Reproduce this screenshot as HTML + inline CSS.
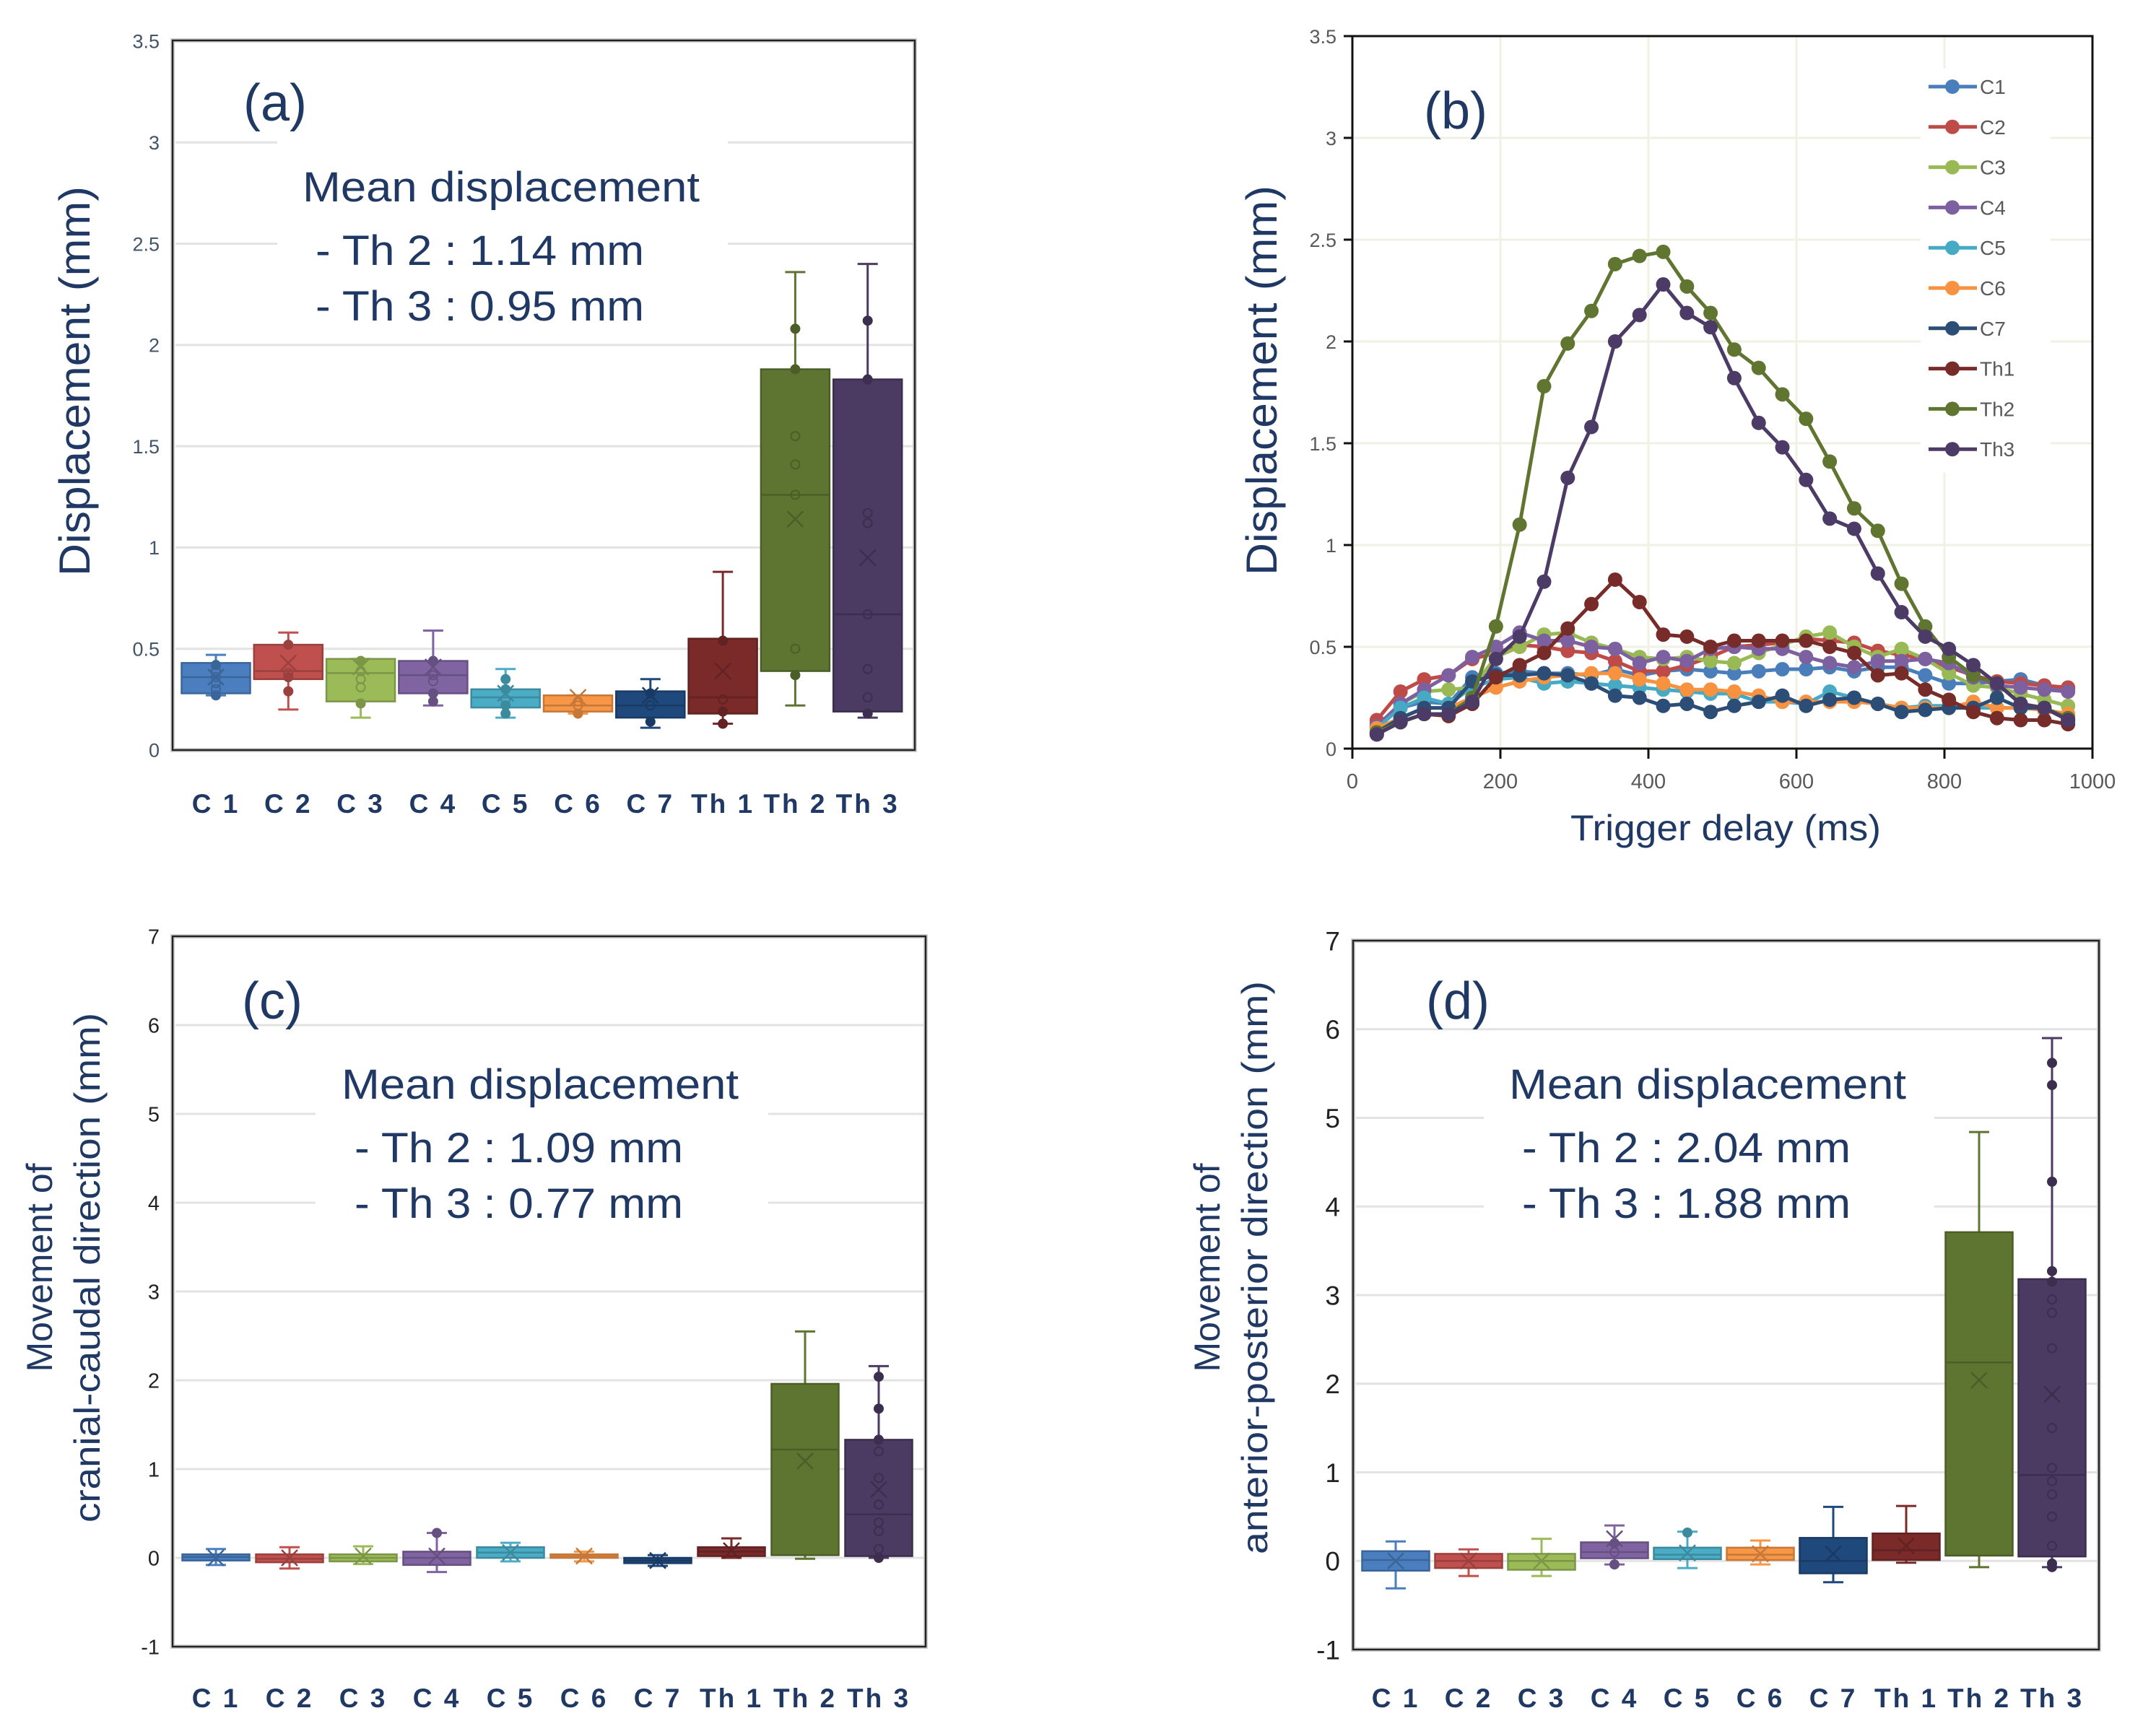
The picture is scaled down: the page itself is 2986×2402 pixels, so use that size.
<!DOCTYPE html>
<html><head><meta charset="utf-8">
<style>
html,body{margin:0;padding:0;background:#fff;}
svg{display:block;font-family:"Liberation Sans",sans-serif;}
</style></head>
<body>
<svg id="fig" width="2986" height="2402" viewBox="0 0 2986 2402" xmlns="http://www.w3.org/2000/svg">
<rect x="0" y="0" width="2986" height="2402" fill="#fff"/>
</svg>
<script>
// ---------- data ----------
const categories = ["C 1","C 2","C 3","C 4","C 5","C 6","C 7","Th 1","Th 2","Th 3"];
const boxColors = ["#4a7ebf","#c0504d","#9bbb59","#8064a2","#4bacc6","#f79646","#1f497d","#7b2a2a","#5e7532","#4b3a62"];

// panel a
const aMin  = [0.27,0.20,0.16,0.22,0.16,0.18,0.11,0.13,0.22,0.16];
const aQ1   = [0.28,0.35,0.24,0.28,0.21,0.19,0.16,0.18,0.39,0.19];
const aMed  = [0.36,0.39,0.38,0.37,0.26,0.22,0.22,0.26,1.26,0.67];
const aQ3   = [0.43,0.52,0.45,0.44,0.30,0.27,0.29,0.55,1.88,1.83];
const aMax  = [0.47,0.58,0.45,0.59,0.40,0.27,0.35,0.88,2.36,2.40];
const aMean = [0.36,0.43,0.41,0.41,0.28,0.26,0.27,0.39,1.14,0.95];
const aPts  = [[0.27,0.30,0.33,0.36,0.39,0.42],[0.29,0.36,0.38,0.52],[0.23,0.31,0.35,0.39,0.44],[0.24,0.28,0.34,0.37,0.44],[0.18,0.22,0.25,0.30,0.35],[0.18,0.22,0.24],[0.14,0.22,0.28],[0.13,0.19,0.25,0.54],[0.37,0.50,1.26,1.41,1.55,1.88,2.08],[0.18,0.26,0.40,0.67,1.12,1.17,1.83,2.12]];
const aTicks = [0,0.5,1,1.5,2,2.5,3,3.5];
const aTickLabels = ["0","0.5","1","1.5","2","2.5","3","3.5"];

// panel c
const cMin  = [-0.08,-0.12,-0.07,-0.16,-0.04,-0.04,-0.09,0.00,-0.01,0.00];
const cQ1   = [-0.03,-0.05,-0.04,-0.08,0.00,0.00,-0.06,0.02,0.03,0.02];
const cMed  = [0.01,-0.01,0.00,0.00,0.06,0.02,-0.03,0.07,1.22,0.49];
const cQ3   = [0.04,0.04,0.04,0.07,0.12,0.04,0.00,0.12,1.96,1.33];
const cMax  = [0.10,0.12,0.13,0.28,0.17,0.07,0.03,0.22,2.55,2.16];
const cMean = [0.00,0.00,0.02,0.02,0.06,0.02,-0.03,0.08,1.09,0.77];
const cPts  = [[],[],[],[0.28],[],[],[],[],[],[0.00,0.10,0.30,0.40,0.60,0.90,1.20,1.33,1.68,2.04]];
const cdTicks = [-1,0,1,2,3,4,5,6,7];
const cdTickLabels = ["-1","0","1","2","3","4","5","6","7"];

// panel d
const dMin  = [-0.31,-0.17,-0.17,-0.04,-0.08,-0.04,-0.24,-0.02,-0.07,-0.07];
const dQ1   = [-0.11,-0.08,-0.10,0.03,0.02,0.01,-0.14,0.01,0.06,0.05];
const dMed  = [0.01,0.00,0.00,0.10,0.07,0.07,0.00,0.12,2.24,0.97];
const dQ3   = [0.11,0.08,0.08,0.21,0.15,0.15,0.26,0.31,3.71,3.18];
const dMax  = [0.22,0.13,0.25,0.40,0.33,0.23,0.61,0.62,4.84,5.90];
const dMean = [0.00,0.00,0.00,0.25,0.09,0.08,0.08,0.17,2.04,1.88];
const dPts  = [[],[],[],[-0.04,0.10,0.20],[0.32],[],[],[],[],[-0.07,-0.03,0.17,0.50,0.75,0.90,1.05,1.50,2.40,2.80,2.95,3.15,3.27,4.28,5.37,5.62]];

// panel b
const seriesNames = ["C1","C2","C3","C4","C5","C6","C7","Th1","Th2","Th3"];
const lineColors = ["#4a7ebb","#be4b48","#98b954","#7d60a0","#46aac5","#f69240","#2c4d75","#772c2a","#5f7530","#4b3b66"];
const delays = [33,65,97,130,162,194,226,259,291,323,355,388,420,452,484,516,549,581,613,645,678,710,742,774,806,839,871,903,935,967];
const sC1 = [0.12,0.20,0.23,0.22,0.35,0.37,0.38,0.37,0.37,0.36,0.39,0.36,0.38,0.39,0.38,0.37,0.38,0.39,0.39,0.40,0.38,0.40,0.40,0.36,0.32,0.32,0.33,0.34,0.31,0.29];
const sC2 = [0.14,0.28,0.34,0.36,0.44,0.47,0.51,0.50,0.48,0.47,0.43,0.38,0.38,0.41,0.45,0.50,0.51,0.52,0.54,0.53,0.52,0.48,0.46,0.44,0.40,0.36,0.33,0.32,0.31,0.30];
const sC3 = [0.10,0.22,0.28,0.29,0.30,0.45,0.50,0.56,0.57,0.52,0.49,0.45,0.44,0.45,0.43,0.42,0.47,0.51,0.55,0.57,0.50,0.45,0.49,0.44,0.37,0.31,0.30,0.27,0.24,0.21];
const sC4 = [0.11,0.22,0.29,0.36,0.45,0.50,0.57,0.53,0.53,0.50,0.49,0.42,0.45,0.43,0.49,0.50,0.49,0.49,0.45,0.42,0.40,0.43,0.43,0.44,0.42,0.35,0.31,0.30,0.29,0.28];
const sC5 = [0.10,0.20,0.25,0.22,0.30,0.34,0.35,0.32,0.33,0.32,0.31,0.30,0.29,0.28,0.27,0.27,0.23,0.23,0.22,0.28,0.25,0.22,0.20,0.21,0.21,0.20,0.20,0.20,0.19,0.16];
const sC6 = [0.10,0.15,0.20,0.20,0.25,0.30,0.33,0.35,0.36,0.37,0.37,0.34,0.32,0.29,0.29,0.28,0.26,0.23,0.23,0.23,0.23,0.22,0.20,0.20,0.20,0.23,0.20,0.20,0.19,0.17];
const sC7 = [0.08,0.15,0.20,0.20,0.33,0.36,0.36,0.37,0.36,0.32,0.26,0.25,0.21,0.22,0.18,0.21,0.23,0.26,0.21,0.24,0.25,0.22,0.18,0.19,0.20,0.20,0.25,0.20,0.20,0.14];
const sTh1 = [0.07,0.13,0.17,0.16,0.22,0.35,0.41,0.47,0.59,0.71,0.83,0.72,0.56,0.55,0.50,0.53,0.53,0.53,0.53,0.50,0.47,0.36,0.37,0.29,0.24,0.18,0.15,0.14,0.14,0.12];
const sTh2 = [0.08,0.13,0.17,0.17,0.25,0.60,1.10,1.78,1.99,2.15,2.38,2.42,2.44,2.27,2.14,1.96,1.87,1.74,1.62,1.41,1.18,1.07,0.81,0.60,0.45,0.36,0.32,0.22,0.20,0.15];
const sTh3 = [0.07,0.13,0.17,0.17,0.23,0.44,0.55,0.82,1.33,1.58,2.00,2.13,2.28,2.14,2.07,1.82,1.60,1.48,1.32,1.13,1.08,0.86,0.67,0.55,0.49,0.41,0.32,0.22,0.20,0.14];
const bYTicks = [0,0.5,1,1.5,2,2.5,3,3.5];
const bYTickLabels = ["0","0.5","1","1.5","2","2.5","3","3.5"];
const bXTicks = [0,200,400,600,800,1000];
const bXTickLabels = ["0","200","400","600","800","1000"];

// ---------- helpers ----------
const NS = "http://www.w3.org/2000/svg";
const svg = document.getElementById("fig");
function mk(tag, attrs, parent){
  const e = document.createElementNS(NS, tag);
  for (const k in attrs) e.setAttribute(k, attrs[k]);
  (parent||svg).appendChild(e);
  return e;
}
function txt(s, attrs, parent){ const e = mk("text", attrs, parent); e.textContent = s; return e; }
function darker(hex, f){
  const n = parseInt(hex.slice(1),16);
  const r=Math.round(((n>>16)&255)*f), g=Math.round(((n>>8)&255)*f), b=Math.round((n&255)*f);
  return "rgb("+r+","+g+","+b+")";
}

function boxPanel(cfg){
  const g = mk("g", {});
  
  
  const L=cfg.left, R=cfg.right;
  const yScale = v => cfg.y0 + (v - cfg.v0) * (cfg.y1 - cfg.y0) / (cfg.v1 - cfg.v0);
  cfg.ticks.forEach((t,i)=>{
    const y = yScale(t);
    if (i>0 && i<cfg.ticks.length-1) {
      const gl = mk("line",{x1:L+4,x2:R-2,y1:y,y2:y,stroke:"#e3e3e3","stroke-width":3},g);
      
      
    }
    const tl = txt(cfg.tickLabels[i],{x:cfg.tickX,y:y+cfg.tickSize*0.36,"text-anchor":"end","font-size":cfg.tickSize,fill:cfg.tickColor},g);
    
    
  });
  const wb = mk("rect",{x:cfg.wb[0],y:cfg.wb[1],width:cfg.wb[2]-cfg.wb[0],height:cfg.wb[3]-cfg.wb[1],fill:"#fff"},g);
  
  
  const fr = mk("rect",{x:L,y:cfg.top,width:R-L,height:cfg.bottom-cfg.top,fill:"none",stroke:"#d0d0d0","stroke-width":6},g);
  
  
  const fr2 = mk("rect",{x:L,y:cfg.top,width:R-L,height:cfg.bottom-cfg.top,fill:"none",stroke:"#222","stroke-width":2.5},g);
  
  
  categories.forEach((c,i)=>{
    const cx = cfg.c0 + cfg.step*i;
    const col = boxColors[i], dk = darker(col,0.8);
    const bg = mk("g",{},g);
    
    
    const yMin=yScale(cfg.min[i]), yMax=yScale(cfg.max[i]), yQ1=yScale(cfg.q1[i]), yQ3=yScale(cfg.q3[i]), yMed=yScale(cfg.med[i]), yMean=yScale(cfg.mean[i]);
    const w = cfg.bw, cap=14;
    mk("line",{x1:cx,x2:cx,y1:yMax,y2:yMin,stroke:col,"stroke-width":3},bg);
    mk("line",{x1:cx-cap,x2:cx+cap,y1:yMax,y2:yMax,stroke:col,"stroke-width":3},bg);
    mk("line",{x1:cx-cap,x2:cx+cap,y1:yMin,y2:yMin,stroke:col,"stroke-width":3},bg);
    mk("rect",{x:cx-w/2,y:Math.min(yQ1,yQ3),width:w,height:Math.max(3,Math.abs(yQ1-yQ3)),fill:col,stroke:dk,"stroke-width":2.5},bg);
    mk("line",{x1:cx-w/2,x2:cx+w/2,y1:yMed,y2:yMed,stroke:dk,"stroke-width":2.5},bg);
    (cfg.pts[i]||[]).forEach(p=>{
      const py=yScale(p);
      const inside = py<Math.max(yQ1,yQ3)-4 && py>Math.min(yQ1,yQ3)+4;
      mk("circle",{cx:cx,cy:py,r:6,fill:inside?"none":dk,stroke:dk,"stroke-width":2},bg);
    });
    const m=11;
    mk("path",{d:`M${cx-m},${yMean-m}L${cx+m},${yMean+m}M${cx-m},${yMean+m}L${cx+m},${yMean-m}`,stroke:dk,"stroke-width":2.5,fill:"none"},bg);
    const cl = txt(c,{x:cx,y:cfg.labelY,"text-anchor":"middle","font-size":37,"font-weight":"bold",fill:"#1f3864","letter-spacing":"3"},g);
    
    
  });
}

boxPanel({name:"panel-a",left:239,right:1267,top:56,bottom:1039,y0:1039,y1:57,v0:0,v1:3.5,
  ticks:aTicks,tickLabels:aTickLabels,tickX:221,tickSize:27,tickColor:"#44546a",
  wb:[384,150,1008,470],c0:299,step:100.3,bw:95,labelY:1126,
  min:aMin,q1:aQ1,med:aMed,q3:aQ3,max:aMax,mean:aMean,pts:aPts});
boxPanel({name:"panel-c",left:239,right:1282,top:1297,bottom:2281,y0:2281,y1:1297,v0:-1,v1:7,
  ticks:cdTicks,tickLabels:cdTickLabels,tickX:221,tickSize:29,tickColor:"#222",
  wb:[437,1470,1064,1700],c0:299,step:102,bw:93,labelY:2365,
  min:cMin,q1:cQ1,med:cMed,q3:cQ3,max:cMax,mean:cMean,pts:cPts});
boxPanel({name:"panel-d",left:1874,right:2907,top:1303,bottom:2285,y0:2285,y1:1303,v0:-1,v1:7,
  ticks:cdTicks,tickLabels:cdTickLabels,tickX:1856,tickSize:37,tickColor:"#222",
  wb:[2055,1470,2679,1700],c0:1933,step:101,bw:93,labelY:2365,
  min:dMin,q1:dQ1,med:dMed,q3:dQ3,max:dMax,mean:dMean,pts:dPts});

(function(){
  const g = mk("g",{});
  
  
  const L=1873,R=2898,T=50,B=1037;
  const xS = v => L + v*(R-L)/1000;
  const yS = v => B - v*(B-T)/3.5;
  bXTicks.forEach((t,i)=>{
    const x=xS(t);
    if(i>0&&i<bXTicks.length-1){ const gl=mk("line",{x1:x,x2:x,y1:T,y2:B,stroke:"#f0f0e4","stroke-width":3},g);
        }
    mk("line",{x1:x,x2:x,y1:B,y2:B+14,stroke:"#111","stroke-width":3},g);
    const tl=txt(bXTickLabels[i],{x:x,y:1092,"text-anchor":"middle","font-size":29,fill:"#595959"},g);
     
  });
  bYTicks.forEach((t,i)=>{
    const y=yS(t);
    if(i>0&&i<bYTicks.length-1){ const gl=mk("line",{x1:L,x2:R,y1:y,y2:y,stroke:"#f0f0e4","stroke-width":3},g);
        }
    mk("line",{x1:L-12,x2:L,y1:y,y2:y,stroke:"#111","stroke-width":3},g);
    const tl=txt(bYTickLabels[i],{x:L-22,y:y+10,"text-anchor":"end","font-size":27,fill:"#595959"},g);
     
  });
  const fr=mk("rect",{x:L,y:T,width:R-L,height:B-T,fill:"none",stroke:"#111","stroke-width":3},g);
   
  const allSeries=[sC1,sC2,sC3,sC4,sC5,sC6,sC7,sTh1,sTh2,sTh3];
  allSeries.forEach((s,k)=>{
    const sg=mk("g",{},g);
    
    
    const d=s.map((v,i)=>(i?"L":"M")+xS(delays[i]).toFixed(1)+","+yS(v).toFixed(1)).join("");
    mk("path",{d:d,fill:"none",stroke:lineColors[k],"stroke-width":5,"stroke-linejoin":"round"},sg);
    s.forEach((v,i)=>{
      const c=mk("circle",{cx:xS(delays[i]),cy:yS(v),r:10,fill:lineColors[k]},sg);
       
    });
  });
  const lg=mk("g",{},g);
   
  mk("rect",{x:2660,y:95,width:180,height:560,fill:"#fff"},lg);
  seriesNames.forEach((n,k)=>{
    const y=120+55.8*k;
    const e=mk("g",{},lg);
     
    mk("line",{x1:2671,x2:2738,y1:y,y2:y,stroke:lineColors[k],"stroke-width":5},e);
    mk("circle",{cx:2704,cy:y,r:10,fill:lineColors[k]},e);
    txt(n,{x:2742,y:y+10,"font-size":28,fill:"#595959"},e);
  });
  const xt=txt("Trigger delay (ms)",{x:2390,y:1164,"text-anchor":"middle","font-size":50,fill:"#1f3864",textLength:430,lengthAdjust:"spacingAndGlyphs"},g);
   
  const yt=txt("Displacement (mm)",{x:0,y:0,"text-anchor":"middle","font-size":60,fill:"#1f3864",textLength:540,lengthAdjust:"spacingAndGlyphs",transform:"translate(1768,527) rotate(-90)"},g);
   
  const pl=txt("(b)",{x:1972,y:178,"font-size":72,fill:"#1f3864"},g);
   
})();

function annot(label,lx,ly,mx,my,lines,l2x,b2,b3){
  const pl=txt(label,{x:lx,y:ly,"font-size":72,fill:"#1f3864"});
   
  const m=txt("Mean displacement",{x:mx,y:my,"font-size":58,fill:"#1f3864",textLength:550,lengthAdjust:"spacingAndGlyphs"});
   
  const t2=txt(lines[0],{x:l2x,y:b2,"font-size":58,fill:"#1f3864",textLength:455,lengthAdjust:"spacingAndGlyphs"});
   
  const t3=txt(lines[1],{x:l2x,y:b3,"font-size":58,fill:"#1f3864",textLength:455,lengthAdjust:"spacingAndGlyphs"});
   
}
annot("(a)",337,167,419,279,["- Th 2 : 1.14 mm","- Th 3 : 0.95 mm"],437,367,444);
annot("(c)",335,1411,473,1522,["- Th 2 : 1.09 mm","- Th 3 : 0.77 mm"],491,1610,1687);
annot("(d)",1975,1411,2090,1522,["- Th 2 : 2.04 mm","- Th 3 : 1.88 mm"],2108,1610,1687);

let t;
t=txt("Displacement (mm)",{x:0,y:0,"text-anchor":"middle","font-size":60,fill:"#1f3864",textLength:540,lengthAdjust:"spacingAndGlyphs",transform:"translate(124,528) rotate(-90)"});
 
t=txt("Movement of",{x:0,y:0,"text-anchor":"middle","font-size":50,fill:"#1f3864",transform:"translate(72,1756) rotate(-90)"});
 
t=txt("cranial-caudal direction (mm)",{x:0,y:0,"text-anchor":"middle","font-size":50,fill:"#1f3864",textLength:706,lengthAdjust:"spacingAndGlyphs",transform:"translate(138,1756) rotate(-90)"});
 
t=txt("Movement of",{x:0,y:0,"text-anchor":"middle","font-size":50,fill:"#1f3864",transform:"translate(1689,1756) rotate(-90)"});
 
t=txt("anterior-posterior direction (mm)",{x:0,y:0,"text-anchor":"middle","font-size":50,fill:"#1f3864",textLength:794,lengthAdjust:"spacingAndGlyphs",transform:"translate(1755,1756) rotate(-90)"});
 
</script>
</body></html>
